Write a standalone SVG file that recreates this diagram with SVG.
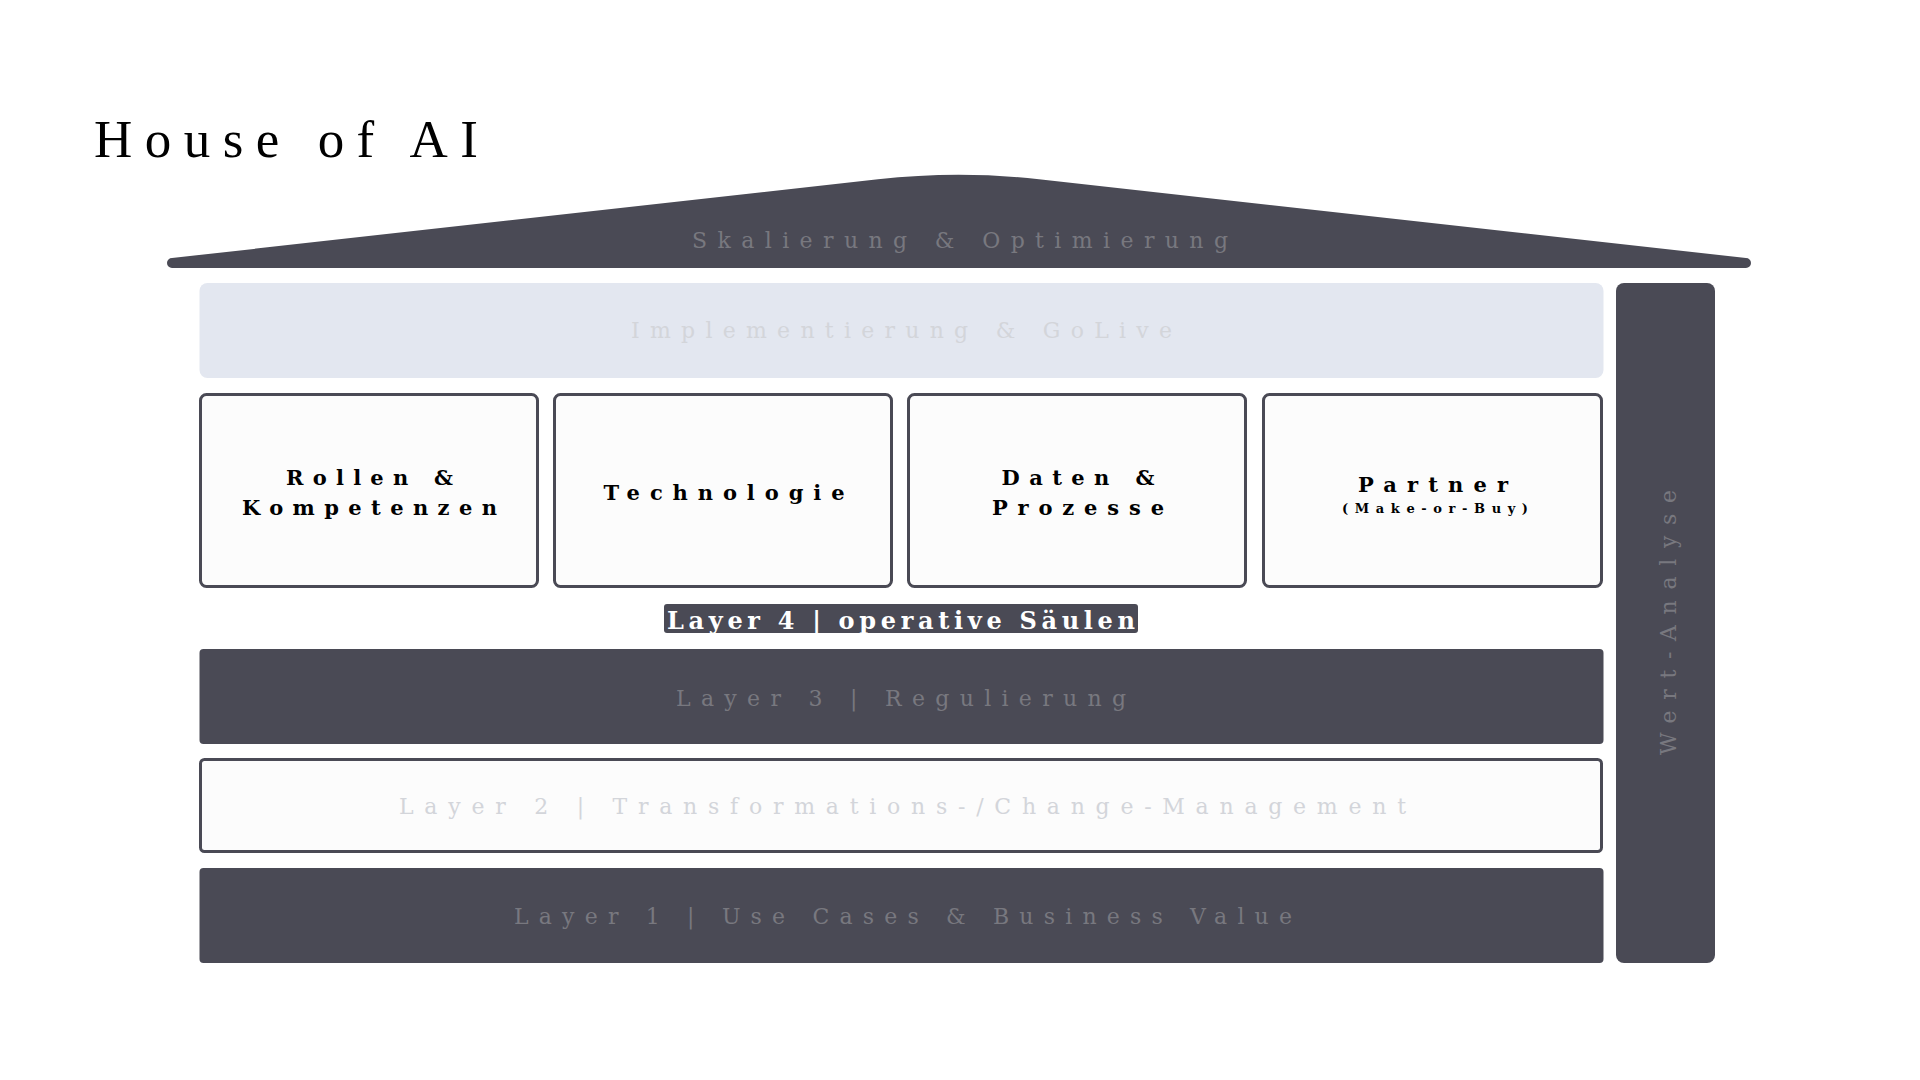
<svg xmlns="http://www.w3.org/2000/svg" width="1920" height="1080" viewBox="0 0 1920 1080">
<style>
.dark{fill:#4a4a55}
.box{fill:#fcfcfc;stroke:#4a4a55;stroke-width:3}
.lbl{font-family:"DejaVu Serif",serif;text-anchor:middle}
.gray{fill:#78787f;font-size:22px}
.faint{fill:#d3d5da;font-size:22px}
.pil{fill:#000;font-size:21px;font-weight:bold}
</style>
<rect width="1920" height="1080" fill="#fff"/>
<g id="title"><text x="94" y="157" font-family="'Liberation Serif',serif" font-size="53" textLength="384" lengthAdjust="spacing" fill="#000">House of AI</text></g>
<g id="roof">
<path class="dark" d="M172,258 L878,179.3 Q958.5,170.3 1039,179.3 L1746,258 A5,5 0 0 1 1746,268 L172,268 A5,5 0 0 1 172,258 Z"/>
<text class="lbl gray" x="960" y="248" textLength="536" lengthAdjust="spacing">Skalierung &amp; Optimierung</text>
</g>
<g id="implementierung">
<rect x="199.5" y="283" width="1404" height="95" rx="8" fill="#e3e7f0"/>
<text class="lbl faint" x="901.5" y="338" textLength="541" lengthAdjust="spacing">Implementierung &amp; GoLive</text>
</g>
<g id="pillar-rollen">
<rect class="box" x="200.5" y="394.5" width="337" height="192" rx="6"/>
<text class="lbl pil" x="369.5" y="485" textLength="167" lengthAdjust="spacing">Rollen &amp;</text>
<text class="lbl pil" x="369.5" y="515" textLength="255" lengthAdjust="spacing">Kompetenzen</text>
</g>
<g id="pillar-technologie">
<rect class="box" x="554.5" y="394.5" width="337" height="192" rx="6"/>
<text class="lbl pil" x="724" y="500" textLength="241" lengthAdjust="spacing">Technologie</text>
</g>
<g id="pillar-daten">
<rect class="box" x="908.5" y="394.5" width="337" height="192" rx="6"/>
<text class="lbl pil" x="1078" y="485" textLength="153" lengthAdjust="spacing">Daten &amp;</text>
<text class="lbl pil" x="1078" y="515" textLength="172" lengthAdjust="spacing">Prozesse</text>
</g>
<g id="pillar-partner">
<rect class="box" x="1263.5" y="394.5" width="338" height="192" rx="6"/>
<text class="lbl pil" x="1433" y="492" textLength="150" lengthAdjust="spacing">Partner</text>
<text class="lbl" x="1435" y="513" font-size="13" font-weight="bold" fill="#000" textLength="186" lengthAdjust="spacing">(Make-or-Buy)</text>
</g>
<g id="layer4-label">
<rect class="dark" x="664" y="604" width="474" height="29" rx="3"/>
<text class="lbl" x="901" y="629" font-size="24" font-weight="bold" fill="#fff" textLength="468" lengthAdjust="spacing">Layer 4 | operative Säulen</text>
</g>
<g id="layer3">
<rect class="dark" x="199.5" y="649" width="1404" height="95" rx="4"/>
<text class="lbl gray" x="901" y="706" textLength="450" lengthAdjust="spacing">Layer 3 | Regulierung</text>
</g>
<g id="layer2">
<rect class="box" x="200.5" y="759.5" width="1401" height="92" rx="4"/>
<text class="lbl faint" x="902.5" y="814" textLength="1007" lengthAdjust="spacing">Layer 2 | Transformations-/Change-Management</text>
</g>
<g id="layer1">
<rect class="dark" x="199.5" y="868" width="1404" height="95" rx="4"/>
<text class="lbl gray" x="903" y="924" textLength="778" lengthAdjust="spacing">Layer 1 | Use Cases &amp; Business Value</text>
</g>
<g id="wert-analyse">
<rect class="dark" x="1616" y="283" width="99" height="680" rx="8"/>
<text class="lbl gray" transform="translate(1676,622.5) rotate(-90)" x="0" y="0" textLength="265" lengthAdjust="spacing">Wert-Analyse</text>
</g>
<g id="connectors"/>
</svg>
